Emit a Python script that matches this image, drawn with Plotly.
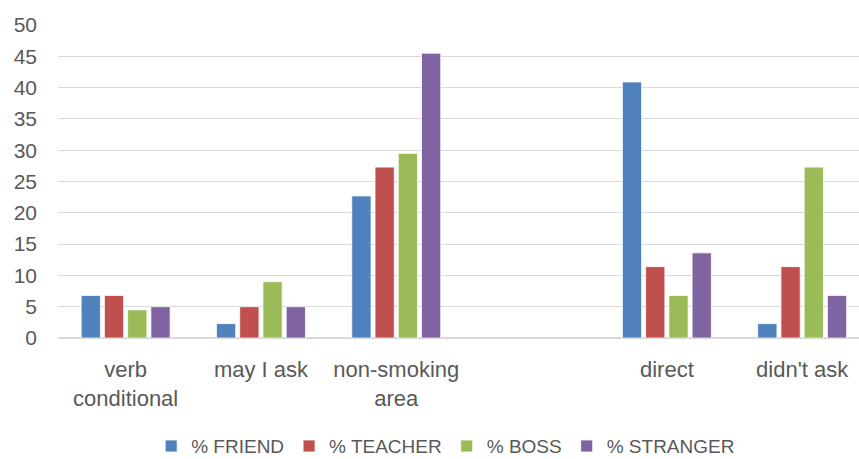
import plotly.graph_objects as go

# Request strategies by addressee (percent of responses)
categories = ["verb<br>conditional", "may I ask", "non-smoking<br>area", " ", "direct", "didn't ask"]
friend = [6.8, 2.3, 22.7, None, 40.9, 2.3]
teacher = [6.8, 5.0, 27.3, None, 11.4, 11.4]
boss = [4.5, 9.0, 29.5, None, 6.8, 27.3]
stranger = [5.0, 5.0, 45.5, None, 13.6, 6.8]

series = [
    ("% FRIEND", friend, "#4F81BD"),
    ("% TEACHER", teacher, "#C0504D"),
    ("% BOSS", boss, "#9BBB59"),
    ("% STRANGER", stranger, "#8064A2"),
]

FONT = "Liberation Sans, Arial, sans-serif"
TEXT = "#595959"
GRID = "#D9D9D9"

fig = go.Figure()
for name, vals, color in series:
    fig.add_trace(go.Bar(
        x=categories, y=vals, name=name,
        marker=dict(color=color, line=dict(color="white", width=0.8)),
    ))

fig.update_layout(
    width=859, height=459,
    margin=dict(l=58, r=0, t=25, b=121, autoexpand=False),
    paper_bgcolor="white", plot_bgcolor="white",
    barmode="group", bargap=0.313, bargroupgap=0.17,
    font=dict(family=FONT, size=20, color=TEXT),
    showlegend=True,
    legend=dict(
        orientation="h", x=0.484, xanchor="center",
        yref="container", y=0.028, yanchor="middle",
        font=dict(family=FONT, size=19, color=TEXT),
        itemwidth=30, traceorder="normal",
    ),
    xaxis=dict(
        type="category", categoryorder="array", categoryarray=categories,
        range=[-0.5, 5.42], showgrid=False, showline=False, ticks="",
        tickfont=dict(family=FONT, size=22, color=TEXT),
        ticklabelstandoff=16,
        fixedrange=True,
    ),
    yaxis=dict(
        range=[0, 50], dtick=5, tick0=0,
        showgrid=True, gridcolor=GRID, gridwidth=1.3,
        zeroline=True, zerolinecolor=GRID, zerolinewidth=1.6,
        showline=False, ticks="", ticklabelstandoff=20,
        tickfont=dict(family=FONT, size=21, color=TEXT),
        fixedrange=True,
    ),
)

fig.write_html("out.html")
